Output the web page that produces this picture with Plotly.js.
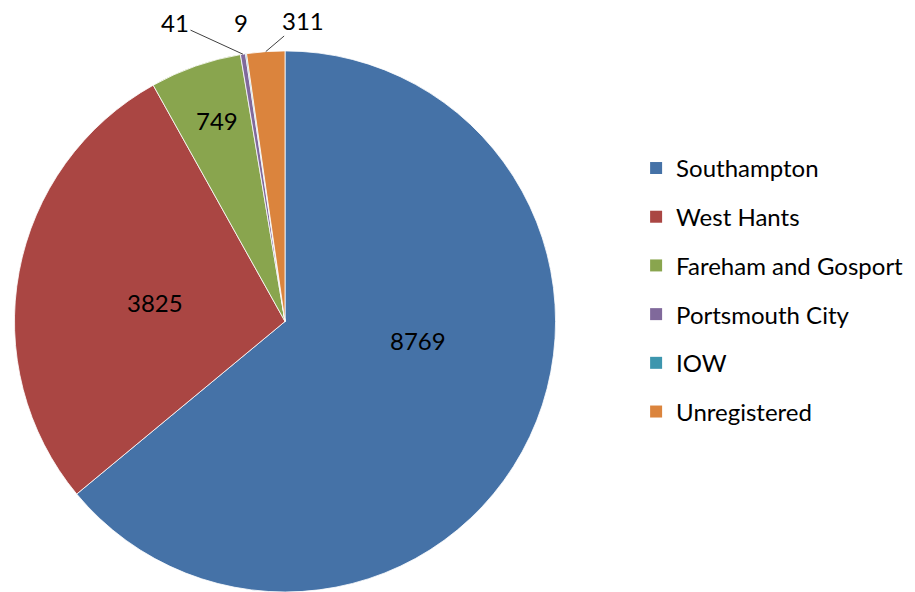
<!DOCTYPE html>
<html>
<head>
<meta charset="utf-8">
<script src="https://cdn.plot.ly/plotly-3.0.1.min.js"></script>
<style>
html,body{margin:0;padding:0;background:#fff;}
#chart{width:915px;height:592px;}
</style>
</head>
<body>
<div id="chart"></div>
<script>
var categories = ["Southampton", "West Hants", "Fareham and Gosport", "Portsmouth City", "IOW", "Unregistered"];
var values = [8769, 3825, 749, 41, 9, 311];
var colors = ["#4572A7", "#AA4643", "#89A54E", "#80699B", "#3D96AE", "#DB843D"];

// ---- layout / style settings (not data) ----
var W = 915, H = 592;
var FONT = "Lato, 'Open Sans', sans-serif";
var pieDomain = {x: [0.0153, 0.6077], y: [0, 0.914]};
// data-label text centres in pixels, and whether a leader line is drawn to the slice
var labelPlacement = [
  {px: 418, py: 340, leader: false},
  {px: 155, py: 302, leader: false},
  {px: 217, py: 120, leader: false},
  {px: 175, py: 23, leader: true},
  {px: 241, py: 23, leader: false},
  {px: 303, py: 20, leader: true}
];

var traces = [{
  type: "pie",
  labels: categories,
  values: values,
  sort: false,
  direction: "clockwise",
  rotation: 0,
  marker: {colors: colors, line: {color: "#ffffff", width: 0.8}},
  textinfo: "none",
  domain: pieDomain,
  showlegend: false,
  hoverinfo: "label+value"
}];

// legend entries (one per category, so that the gap between entries can be set)
categories.forEach(function(c, i) {
  traces.push({
    type: "scatter",
    mode: "markers",
    x: [null], y: [null],
    name: c,
    legendgroup: "g" + i,
    marker: {symbol: "square", size: 12, color: colors[i]},
    showlegend: true,
    hoverinfo: "skip"
  });
});

// pie geometry derived from the domain (same rule Plotly uses)
var dw = (pieDomain.x[1] - pieDomain.x[0]) * W;
var dh = (pieDomain.y[1] - pieDomain.y[0]) * H;
var R = Math.min(dw, dh) / 2;
var cx = (pieDomain.x[0] + pieDomain.x[1]) / 2 * W;
var cy = H - (pieDomain.y[0] + pieDomain.y[1]) / 2 * H;
var total = values.reduce(function(a, b) { return a + b; }, 0);

var annotations = [];
var cum = 0;
values.forEach(function(v, i) {
  var mid = (cum + v / 2) / total * 2 * Math.PI;
  cum += v;
  var tipX = cx + R * Math.sin(mid);
  var tipY = cy - R * Math.cos(mid);
  var p = labelPlacement[i];
  var a = {
    text: String(v),
    font: {family: FONT, size: 24, color: "#000000"},
    xref: "paper", yref: "paper",
    xanchor: "center", yanchor: "middle"
  };
  if (p.leader) {
    a.x = tipX / W; a.y = 1 - tipY / H;
    a.showarrow = true;
    a.ax = p.px - tipX; a.ay = p.py - tipY;
    a.arrowhead = 0; a.arrowwidth = 1; a.arrowcolor = "#404040";
    a.standoff = 0; a.startstandoff = 0;
  } else {
    a.x = p.px / W; a.y = 1 - p.py / H;
    a.showarrow = false;
  }
  annotations.push(a);
});

var layout = {
  width: W, height: H,
  margin: {l: 0, r: 0, t: 0, b: 0},
  paper_bgcolor: "#ffffff",
  plot_bgcolor: "rgba(0,0,0,0)",
  xaxis: {visible: false},
  yaxis: {visible: false},
  showlegend: true,
  legend: {
    x: 0.6952, xanchor: "left",
    y: 0.7535, yanchor: "top",
    font: {family: FONT, size: 24, color: "#000000"},
    tracegroupgap: 14.5,
    bgcolor: "rgba(0,0,0,0)",
    itemclick: false
  },
  annotations: annotations
};

Plotly.newPlot("chart", traces, layout, {displayModeBar: false, staticPlot: true});
</script>
</body>
</html>
